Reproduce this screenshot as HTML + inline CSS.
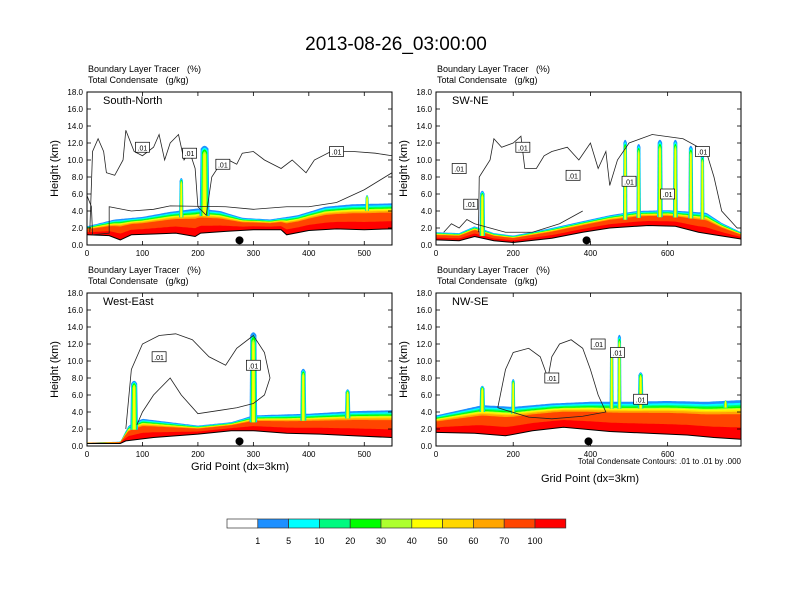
<!DOCTYPE html>
<html><head><meta charset="utf-8"><style>
body{margin:0;background:#fff}
svg{display:block;font-family:"Liberation Sans",sans-serif}
text{white-space:pre}
</style></head><body>
<svg id="chart" width="792" height="612" viewBox="0 0 792 612">
<text x="396" y="50" font-size="19" text-anchor="middle">2013-08-26_03:00:00</text>
<g id="panels"></g>
<g id="cbar"></g>
<text x="240" y="470" font-size="11" text-anchor="middle">Grid Point (dx=3km)</text>
<text x="590" y="482" font-size="11" text-anchor="middle">Grid Point (dx=3km)</text>
<text x="741" y="464" font-size="8" text-anchor="end">Total Condensate Contours: .01 to .01 by .000</text>
</svg>
<script>
// ---- data ----
const colors=["#ffffff","#1e90ff","#00ffff","#00fa80","#00ff00","#adff2f","#ffff00","#ffd700","#ffa500","#ff4500","#ff0000"];
const cbarLabels=["1","5","10","20","30","40","50","60","70","100"];
const panelNames=["South-North","SW-NE","West-East","NW-SE"];
const xMaxs=[550,790,550,790];
const xTickVals=[[0,100,200,300,400,500],[0,200,400,600],[0,100,200,300,400,500],[0,200,400,600]];
const yTickVals=[0,2,4,6,8,10,12,14,16,18];
const terrainTL=[[0,1.2],[40,1.1],[60,0.6],[80,1.2],[120,1.3],[160,1.4],[195,1.0],[205,1.4],[250,1.6],[300,1.8],[350,1.8],[360,1.2],[400,1.7],[450,1.9],[500,1.8],[550,1.9]];
const blTopTL=[[0,2.2],[50,3.0],[100,3.3],[150,3.9],[200,4.3],[240,4.0],[280,3.2],[330,3.0],[380,3.5],[430,4.5],[480,4.8],[550,4.9]];
const terrainTR=[[0,0.6],[60,0.5],[100,1.0],[150,0.5],[200,0.3],[300,0.8],[380,1.5],[450,2.0],[550,2.3],[620,2.2],[680,1.5],[720,1.2],[790,0.7]];
const blTopTR=[[0,1.5],[60,1.4],[100,2.2],[150,1.4],[200,1.1],[300,2.0],[380,2.8],[450,3.5],[520,4.0],[600,4.1],[700,3.8],[740,2.6],[790,1.5]];
const terrainBL=[[0,0.3],[60,0.3],[70,0.6],[120,1.0],[200,1.4],[260,1.8],[300,1.8],[360,1.5],[420,1.4],[480,1.2],[550,1.0]];
const blTopBL=[[0,0.4],[60,0.5],[75,2.4],[100,3.2],[150,2.8],[200,2.4],[260,2.8],[300,3.6],[400,3.8],[480,4.1],[550,4.2]];
const terrainBR=[[0,1.6],[100,1.5],[180,1.2],[250,1.8],[330,2.2],[380,2.0],[450,1.7],[550,1.5],[650,1.3],[720,1.0],[790,0.8]];
const blTopBR=[[0,3.6],[60,4.2],[120,4.8],[200,4.6],[300,5.0],[400,5.2],[500,5.2],[600,5.3],[700,5.2],[790,5.4]];
const towersTL=[[212,11.8,16],[170,8.0,6],[505,6.0,5]];
const towersTR=[[120,6.5,12],[490,12.5,9],[525,12.0,9],[580,12.5,12],[620,12.5,10],[660,11.8,10],[690,10.8,8]];
const towersBL=[[85,7.8,12],[300,13.5,12],[390,9.2,9],[470,6.8,8]];
const towersBR=[[120,7.2,12],[200,8.0,8],[455,11.5,8],[475,13.2,8],[530,8.8,12],[750,5.5,10]];
const contTL=[[5,1.5],[10,11],[20,12.5],[30,11],[35,8.5],[50,8.2],[65,10],[70,13.5],[85,11],[100,10.5],[120,11.5],[130,13],[140,10],[150,12],[165,13],[175,10],[185,11],[195,9],[200,4.5],[215,3.5],[225,8],[240,9.5],[255,10],[270,9.5],[280,10.8],[300,11],[320,10],[350,9],[370,10],[395,8.5],[410,10],[440,11],[480,11],[520,10.8],[550,10.5]];
const cont2TL=[[0,5.8],[8,4.5],[10,1.2],[40,1.4],[40,4.5],[80,4],[120,4.2],[150,4.6],[250,4.5],[300,4.2],[360,4.5],[400,4.5],[450,5],[500,6.5],[550,8.5]];
const contTR=[[110,1.5],[112,8],[140,10],[150,12.5],[170,11.5],[200,12],[220,12.8],[230,9],[260,9],[280,10.5],[300,11],[340,11.5],[370,10],[400,12],[420,9],[440,11],[450,7],[470,10],[500,12],[560,13],[640,12.5],[700,11],[720,8],[740,4],[780,2]];
const cont2TR=[[20,1.5],[40,2.5],[60,2],[80,3],[100,2.5],[140,2],[180,1.5],[250,1.5],[320,2.5],[360,3.5],[380,4]];
const contBL=[[70,2],[80,9],[100,12],[130,13],[160,13.2],[190,12.5],[220,10.5],[250,9.5],[270,11.5],[300,13],[320,11],[330,8],[320,6],[300,5],[270,4.5],[240,4.2],[200,3.8],[170,6],[150,8],[120,6],[100,4],[90,2.5]];
const contBR=[[160,4.5],[180,9],[200,11],[240,11.5],[270,10.5],[290,8],[300,10.5],[320,12],[350,12.5],[380,11.5],[400,9],[420,6],[440,4],[380,3.5],[300,3.2],[240,3.4],[160,4.5]];
const dotX=[275,390,275,395];
const labelsTL=[[100,11.5],[185,10.8],[245,9.5],[450,11]];
const labelsTR=[[225,11.5],[60,9],[355,8.2],[90,4.8],[500,7.5],[600,6],[690,11]];
const labelsBL=[[130,10.5],[300,9.5]];
const labelsBR=[[300,8],[420,12],[470,11],[530,5.5]];
// ---- drawing ----
const NS="http://www.w3.org/2000/svg";
const panels=document.getElementById('panels');
const frames=[[87,92],[436,92],[87,293],[436,293]];
const W=305,H=153;
const terr=[terrainTL,terrainTR,terrainBL,terrainBR];
const tops=[blTopTL,blTopTR,blTopBL,blTopBR];
const towers=[towersTL,towersTR,towersBL,towersBR];
const conts=[[contTL,cont2TL],[contTR,cont2TR],[contBL],[contBR]];
const labs=[labelsTL,labelsTR,labelsBL,labelsBR];
function interp(arr,x){if(x<=arr[0][0])return arr[0][1];for(let i=1;i<arr.length;i++){if(x<=arr[i][0]){const a=arr[i-1],b=arr[i];return a[1]+(b[1]-a[1])*(x-a[0])/(b[0]-a[0]);}}return arr[arr.length-1][1];}
function mk(tag,attrs,parent){const e=document.createElementNS(NS,tag);for(const k in attrs)e.setAttribute(k,attrs[k]);parent.appendChild(e);return e;}
const fracs=[1.0,0.93,0.88,0.84,0.8,0.77,0.74,0.7,0.64,0.3];
for(let p=0;p<4;p++){
  const [fx,fy]=frames[p];const xm=xMaxs[p];
  const sx=v=>fx+v/xm*W, sy=h=>fy+H-h/18*H;
  const g=mk('g',{},panels);
  
  
  const cp=mk('clipPath',{id:'cp'+p},g);mk('rect',{x:fx,y:fy,width:W,height:H},cp);
  const inner=mk('g',{'clip-path':'url(#cp'+p+')'},g);
  const N=200;
  for(let li=0;li<fracs.length;li++){
    let pts=[];
    for(let i=0;i<=N;i++){const x=xm*i/N;const t=interp(terr[p],x),b=interp(tops[p],x);pts.push(sx(x).toFixed(1)+','+sy(t+(b-t)*fracs[li]).toFixed(1));}
    for(let i=N;i>=0;i--){const x=xm*i/N;pts.push(sx(x).toFixed(1)+','+sy(interp(terr[p],x)).toFixed(1));}
    const pl=mk('polygon',{points:pts.join(' '),fill:colors[li+1],stroke:'none'},inner);
    
    
  }
  towers[p].forEach(t=>{
    const [tx,th,tw]=t;const base=interp(tops[p],tx);
    const layers=[[1,colors[1]],[0.8,colors[2]],[0.62,colors[4]],[0.42,colors[5]],[0.22,colors[6]]];
    layers.forEach(([f,c])=>{
      const w=tw*f/xm*W/2+0.5;const top=base+(th-base)*(0.85+0.15*f);
      const el=mk('path',{d:`M${sx(tx)-w},${sy(base-0.8)} L${sx(tx)-w*0.8},${sy(top)+4} Q${sx(tx)},${sy(top)-2} ${sx(tx)+w*0.8},${sy(top)+4} L${sx(tx)+w},${sy(base-0.8)} Z`,fill:c},inner);
      
      
    });
  });
  const tl=mk('polyline',{points:terr[p].map(a=>sx(a[0])+','+sy(a[1])).join(' '),fill:'none',stroke:'#000','stroke-width':1},inner);
  
  
  conts[p].forEach(c=>{
    const l=mk('polyline',{points:c.map(a=>sx(a[0])+','+sy(a[1])).join(' '),fill:'none',stroke:'#222','stroke-width':0.8},inner);
    
    
  });
  labs[p].forEach(a=>{
    const lg=mk('g',{},inner);
    
    
    mk('rect',{x:sx(a[0])-7,y:sy(a[1])-5,width:14,height:10,fill:'#fff',stroke:'#000','stroke-width':0.7},lg);
    const t=mk('text',{x:sx(a[0]),y:sy(a[1])+3,'font-size':7,'text-anchor':'middle'},lg);t.textContent='.01';
  });
  const d=mk('circle',{cx:sx(dotX[p]),cy:sy(0.55),r:4,fill:'#000'},g);
  
  
  const fr=mk('rect',{x:fx,y:fy,width:W,height:H,fill:'none',stroke:'#000','stroke-width':1},g);
  
  
  xTickVals[p].forEach(v=>{
    mk('line',{x1:sx(v),x2:sx(v),y1:fy+H,y2:fy+H-4,stroke:'#000','stroke-width':0.8},g);
    mk('line',{x1:sx(v),x2:sx(v),y1:fy,y2:fy+4,stroke:'#000','stroke-width':0.8},g);
    const t=mk('text',{x:sx(v),y:fy+H+11,'font-size':8,'text-anchor':'middle'},g);t.textContent=v;
    
    
  });
  yTickVals.forEach(v=>{
    mk('line',{x1:fx,x2:fx+4,y1:sy(v),y2:sy(v),stroke:'#000','stroke-width':0.8},g);
    mk('line',{x1:fx+W,x2:fx+W-4,y1:sy(v),y2:sy(v),stroke:'#000','stroke-width':0.8},g);
    const t=mk('text',{x:fx-4,y:sy(v)+3,'font-size':8,'text-anchor':'end'},g);t.textContent=v.toFixed(1);
    
    
  });
  const yt=mk('text',{x:0,y:0,'font-size':11,'text-anchor':'middle',transform:`translate(${fx-29},${fy+H/2}) rotate(-90)`},g);yt.textContent='Height (km)';
  
  
  const n=mk('text',{x:fx+16,y:fy+12,'font-size':11},g);n.textContent=panelNames[p];
  
  
  const s1=mk('text',{x:fx+1,y:fy-20,'font-size':9},g);s1.textContent='Boundary Layer Tracer   (%)';
  
  
  const s2=mk('text',{x:fx+1,y:fy-9,'font-size':9},g);s2.textContent='Total Condensate   (g/kg)';
  
  
}
const cb=document.getElementById('cbar');const cx0=227,bw=30.8;
colors.forEach((c,i)=>{
  const r=mk('rect',{x:cx0+i*bw,y:519,width:bw,height:9,fill:c,stroke:'#333','stroke-width':0.7},cb);
  
  
});
cbarLabels.forEach((l,i)=>{
  const t=mk('text',{x:cx0+(i+1)*bw,y:544,'font-size':9,'text-anchor':'middle'},cb);t.textContent=l;
  
  
});
</script>
</body></html>
